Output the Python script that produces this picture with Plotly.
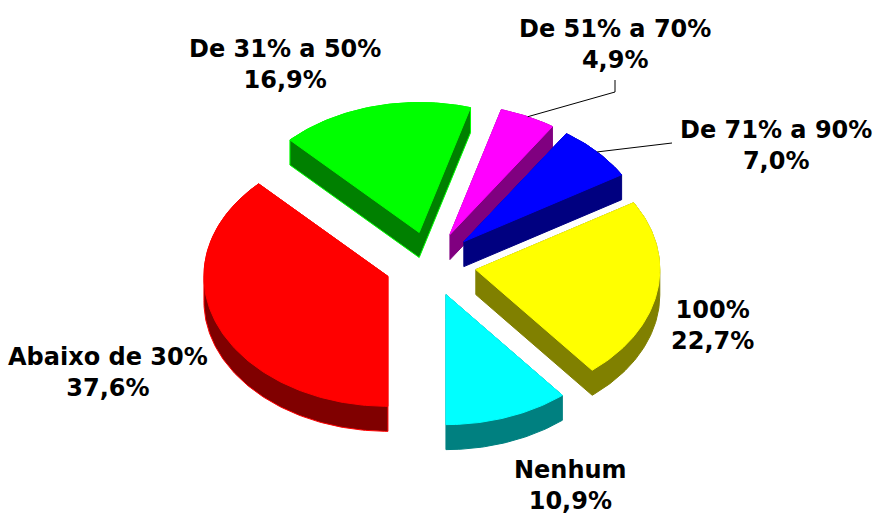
import math
import plotly.graph_objects as go

# Data (clockwise from the bottom of the pie)
categories = ["Abaixo de 30%", "De 31% a 50%", "De 51% a 70%", "De 71% a 90%", "100%", "Nenhum"]
values = [37.6, 16.9, 4.9, 7.0, 22.7, 10.9]
value_labels = ["37,6%", "16,9%", "4,9%", "7,0%", "22,7%", "10,9%"]
top_colors = ["#FF0000", "#00FF00", "#FF00FF", "#0000FF", "#FFFF00", "#00FFFF"]
side_colors = ["#800000", "#008000", "#800080", "#000080", "#808000", "#008080"]
side_edges = ["#FF0000", "#00FF00", "#800080", "#000080", "#808000", "#008080"]
label_xy = [(108, 372), (285, 64), (615, 44), (776, 145), (712, 325), (570, 485)]

# Projection of the 3D pie in the page's pixel space
CX, CY = 430.5, 264.0
RX, RY = 184.0, 130.0
DEPTH = 25.0
EXPLODE = 0.25
START = 180.0
FONT = "DejaVu Sans"
FONT_SIZE = 24


def project(angle_deg, radius=1.0):
    a = math.radians(angle_deg)
    return radius * RX * math.sin(a), -radius * RY * math.cos(a)


def hull(points):
    pts = sorted(set(points))
    def half(seq):
        out = []
        for p in seq:
            while len(out) >= 2 and (out[-1][0]-out[-2][0])*(p[1]-out[-2][1]) - (out[-1][1]-out[-2][1])*(p[0]-out[-2][0]) <= 0:
                out.pop()
            out.append(p)
        return out[:-1]
    return half(pts) + half(pts[::-1])


fig = go.Figure()
total = sum(values)
angle = START
rim_points = {}
for name, value, top, side, edge in zip(categories, values, top_colors, side_colors, side_edges):
    a1 = angle
    a2 = angle + value / total * 360.0
    angle = a2
    mx, my = project((a1 + a2) / 2, EXPLODE)
    ox, oy = CX + mx, CY + my
    steps = max(8, int(a2 - a1))
    top_pts = [(ox, oy)]
    for i in range(steps + 1):
        px, py = project(a1 + (a2 - a1) * i / steps)
        top_pts.append((ox + px, oy + py))
    rim_points[name] = (ox, oy)
    body = hull(top_pts + [(x, y + DEPTH) for x, y in top_pts])
    body.append(body[0])
    fig.add_trace(go.Scatter(x=[p[0] for p in body], y=[p[1] for p in body], mode="lines",
                             fill="toself", fillcolor=side, line=dict(color=edge, width=1),
                             hoverinfo="skip", showlegend=False))
    closed = top_pts + [top_pts[0]]
    fig.add_trace(go.Scatter(x=[p[0] for p in closed], y=[p[1] for p in closed], mode="lines",
                             fill="toself", fillcolor=top, line=dict(color=top, width=1),
                             name=name, showlegend=False))

# Leader lines
def rim(name, a):
    px, py = project(a)
    ox, oy = rim_points[name]
    return ox + px, oy + py

m = rim("De 51% a 70%", 25.0)
b = rim("De 71% a 90%", 46.4)
fig.add_trace(go.Scatter(x=[m[0], 615, 615], y=[m[1], 92, 80], mode="lines",
                         line=dict(color="#000000", width=1), hoverinfo="skip", showlegend=False))
fig.add_trace(go.Scatter(x=[b[0], 672], y=[b[1], 143], mode="lines",
                         line=dict(color="#000000", width=1), hoverinfo="skip", showlegend=False))

for name, lab, (x, y) in zip(categories, value_labels, label_xy):
    fig.add_annotation(x=x, y=y, text=f"<b>{name}<br>{lab}</b>", showarrow=False, align="center",
                       font=dict(family=FONT, size=FONT_SIZE, color="#000000"),
                       xanchor="center", yanchor="middle")

fig.update_xaxes(range=[0, 878], visible=False, fixedrange=True)
fig.update_yaxes(range=[513, 0], visible=False, fixedrange=True)
fig.update_layout(width=878, height=513, margin=dict(l=0, r=0, t=0, b=0),
                  paper_bgcolor="#FFFFFF", plot_bgcolor="#FFFFFF", showlegend=False)
fig.write_html("out.html", config={"displayModeBar": False},
               post_script="document.body.style.margin='0';document.documentElement.style.overflow='hidden';")
